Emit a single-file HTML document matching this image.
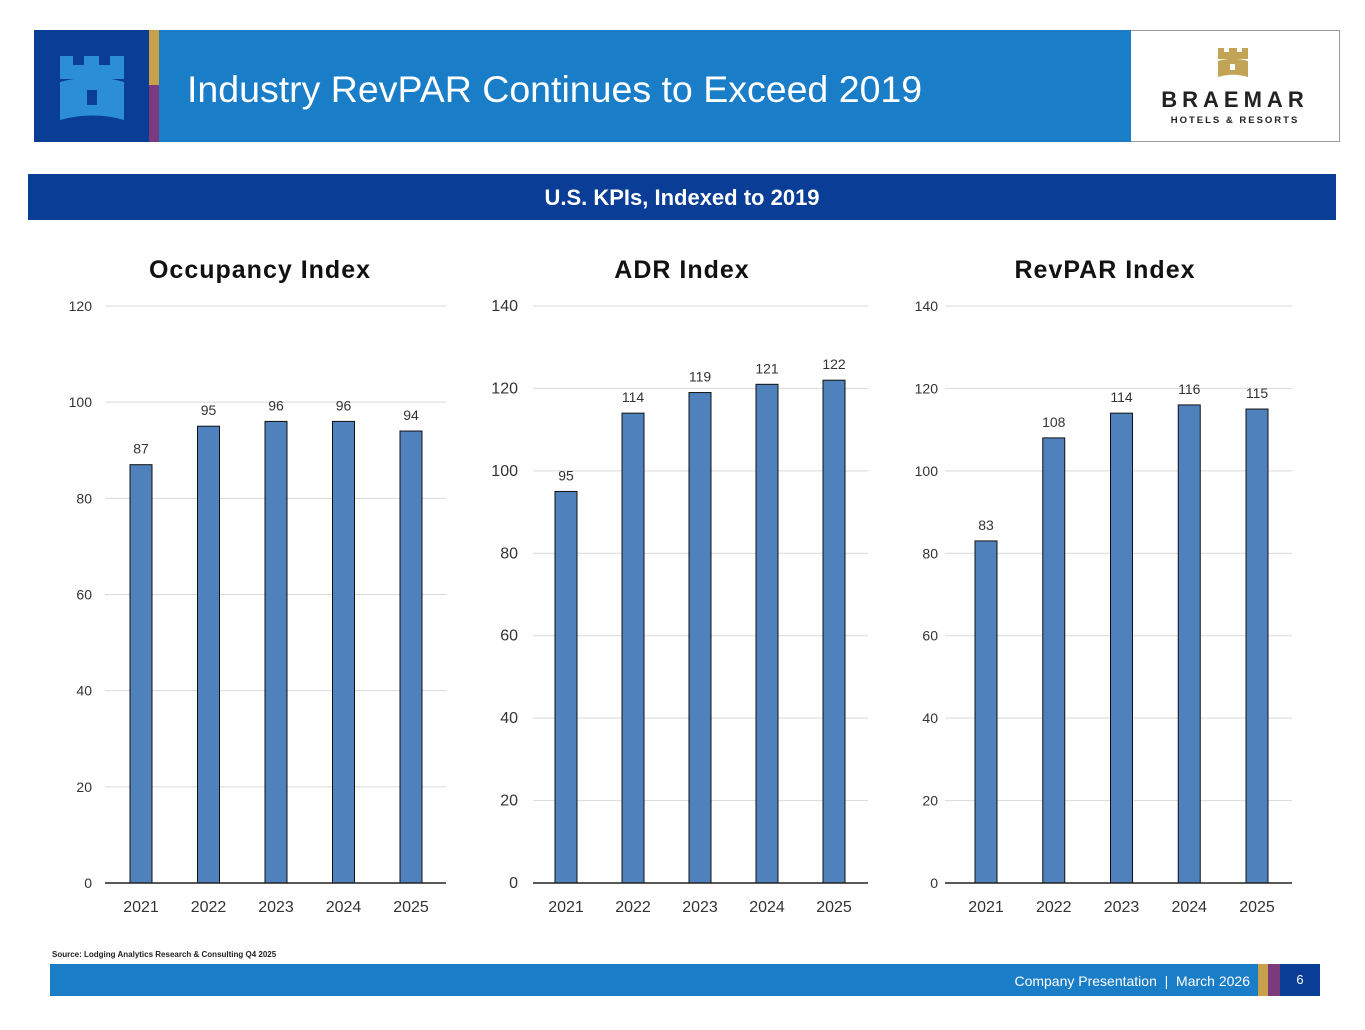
<!DOCTYPE html>
<html><head><meta charset="utf-8">
<style>
body{margin:0;width:1365px;height:1030px;background:#fff;position:relative;overflow:hidden;font-family:"Liberation Sans",sans-serif}
.abs{position:absolute}
</style></head><body>
<div class="abs" style="left:34px;top:30px;width:115px;height:112px;background:#0a3d96"></div>
<svg class="abs" style="left:58px;top:54px" width="70" height="70" viewBox="0 0 70 70">
<path d="M2 2h13v9h11V2h15v9h11V2h14v23H2z" fill="#2c8fd6"/>
<path d="M2 28c22-6 44-6 64 0v38c-20-6-42-6-64 0z" fill="#2c8fd6"/>
<rect x="29" y="36" width="10" height="15" fill="#0a3d96"/>
</svg>
<div class="abs" style="left:149px;top:30px;width:10px;height:55px;background:#c9a04a"></div>
<div class="abs" style="left:149px;top:85px;width:10px;height:57px;background:#7b3a7e"></div>
<div class="abs" style="left:159px;top:30px;width:972px;height:112px;background:#1a7dc8"></div>
<div class="abs" style="left:187px;top:68px;color:#fff;font-size:37.5px;">Industry RevPAR Continues to Exceed 2019</div>
<div class="abs" style="left:1131px;top:30px;width:208px;height:110px;background:#fff;border:1px solid #999;border-left:none"></div>
<svg class="abs" style="left:1218px;top:48px" width="30" height="30" viewBox="0 0 30 30">
<path d="M0 0h6v4h5V0h8v4h5V0h6v11H0z" fill="#c2a456"/><path d="M0 13c10-3 20-3 30 0v16c-10-3-20-3-30 0z" fill="#c2a456"/><rect x="12" y="16" width="5" height="6" fill="#fff"/></svg>
<div class="abs" style="left:1131px;top:87px;width:208px;text-align:center;font-weight:bold;font-size:22px;letter-spacing:5px;color:#222">BRAEMAR</div>
<div class="abs" style="left:1131px;top:115px;width:208px;text-align:center;font-weight:bold;font-size:9.5px;letter-spacing:2px;color:#222">HOTELS &amp; RESORTS</div>
<div class="abs" style="left:28px;top:174px;width:1308px;height:46px;background:#0a3d96;color:#fff;font-weight:bold;font-size:22px;text-align:center;line-height:48px">U.S. KPIs, Indexed to 2019</div>
<svg id="charts" class="abs" style="left:0;top:0" width="1365" height="1030"></svg>
<div class="abs" style="left:52px;top:950px;font-size:8px;font-weight:bold;color:#222">Source: Lodging Analytics Research &amp; Consulting Q4 2025</div>
<div class="abs" style="left:50px;top:964px;width:1208px;height:32px;background:#1a7dc8"></div>
<div class="abs" style="left:900px;top:973px;width:350px;text-align:right;color:#fff;font-size:14px">Company Presentation &nbsp;|&nbsp; March 2026</div>
<div class="abs" style="left:1258px;top:964px;width:10px;height:32px;background:#c9a04a"></div>
<div class="abs" style="left:1268px;top:964px;width:12px;height:32px;background:#7b3a7e"></div>
<div class="abs" style="left:1280px;top:964px;width:40px;height:32px;background:#0a3d96;color:#fff;font-size:13px;text-align:center;line-height:32px">6</div>
<script>
const categories=["2021","2022","2023","2024","2025"];
const occValues=[87,95,96,96,94];
const adrValues=[95,114,119,121,122];
const revparValues=[83,108,114,116,115];
const occTicks=[0,20,40,60,80,100,120];
const adrTicks=[0,20,40,60,80,100,120,140];
const revTicks=[0,20,40,60,80,100,120,140];
const NS="http://www.w3.org/2000/svg";
const svg=document.getElementById('charts');
function mk(t,a,txt){const e=document.createElementNS(NS,t);for(const k in a)e.setAttribute(k,a[k]);if(txt!==undefined)e.textContent=txt;svg.appendChild(e);return e;}
function chart(title,titleX,vals,ticks,x0,x1,centers0,step,name,labelFs,tickX){
  const yTop=306,yBot=883,max=ticks[ticks.length-1];
  const y=v=>yBot-(v/max)*(yBot-yTop);
  const xc=i=>centers0+i*step;
  let t=mk('text',{x:titleX,y:278,'text-anchor':'middle','font-size':25,'font-weight':'bold',fill:'#111','letter-spacing':1},title);
  
  ticks.forEach(v=>{
    if(v>0){let g=mk('line',{x1:x0,x2:x1,y1:y(v),y2:y(v),stroke:'#d9d9d9','stroke-width':1});
    }
    let l=mk('text',{x:tickX,y:y(v)+5,'text-anchor':'end','font-size':labelFs,fill:'#333'},v);
    
  });
  vals.forEach((v,i)=>{
    let b=mk('rect',{x:xc(i)-11,y:y(v),width:22,height:yBot-y(v),fill:'#4f81bd',stroke:'#111','stroke-width':1});
    
    let l=mk('text',{x:xc(i),y:y(v)-11,'text-anchor':'middle','font-size':14,fill:'#333'},v);
    
    let c=mk('text',{x:xc(i),y:912,'text-anchor':'middle','font-size':16,fill:'#333'},categories[i]);
    
  });
  let ax=mk('line',{x1:x0,x2:x1,y1:yBot,y2:yBot,stroke:'#222','stroke-width':1.5});
  
}
chart('Occupancy Index',260,occValues,occTicks,105,446,141,67.5,'occupancy',14,92);
chart('ADR Index',682,adrValues,adrTicks,533,868,566,67,'adr',16,518);
chart('RevPAR Index',1105,revparValues,revTicks,945,1292,986,67.75,'revpar',14,938);
</script>
</body></html>
